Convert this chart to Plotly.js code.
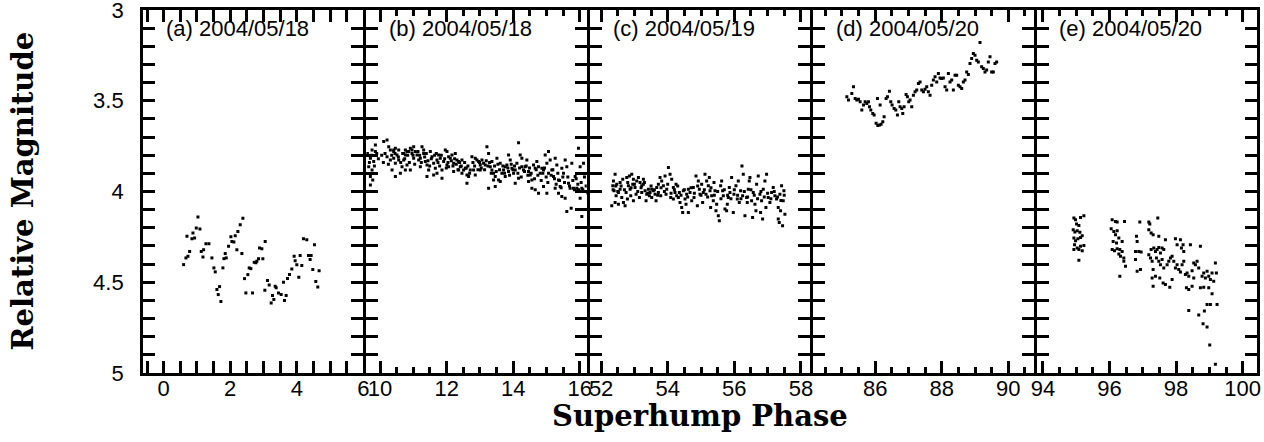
<!DOCTYPE html>
<html>
<head>
<meta charset="utf-8">
<script src="https://cdn.plot.ly/plotly-3.0.1.min.js"></script>
<style>html,body{margin:0;padding:0;background:#fff;}#plot{width:1264px;height:442px;}</style>
</head>
<body>
<div id="plot"></div>
<script>
// ---- Panel (a) 2004/05/18 ----
const aPhase = [0.60,0.67,0.73,0.78,0.70,0.88,0.85,0.93,0.98,1.03,1.09,1.13,1.20,1.18,1.27,1.36,1.45,1.51,1.55,1.60,1.64,1.68,1.72,1.78,1.81,1.88,1.85,1.95,2.02,2.05,2.11,2.15,2.20,2.23,2.30,2.38,2.35,2.43,2.47,2.53,2.57,2.62,2.67,2.72,2.77,2.80,2.85,2.88,2.95,2.98,3.05,3.04,3.12,3.17,3.23,3.27,3.31,3.35,3.38,3.45,3.53,3.60,3.63,3.68,3.72,3.78,3.85,3.92,3.95,4.00,4.06,4.10,4.15,4.20,4.30,4.35,4.40,4.43,4.48,4.53,4.57,4.63,4.67];
const aMag = [4.403,4.366,4.357,4.330,4.247,4.229,4.260,4.256,4.201,4.141,4.207,4.330,4.321,4.361,4.288,4.288,4.366,4.421,4.443,4.540,4.568,4.524,4.606,4.421,4.370,4.366,4.342,4.302,4.249,4.275,4.278,4.244,4.321,4.220,4.183,4.147,4.342,4.480,4.559,4.458,4.421,4.425,4.559,4.390,4.392,4.385,4.370,4.311,4.315,4.370,4.275,4.544,4.491,4.515,4.614,4.573,4.595,4.522,4.531,4.559,4.568,4.500,4.601,4.573,4.480,4.458,4.427,4.357,4.381,4.403,4.473,4.352,4.408,4.260,4.266,4.352,4.375,4.352,4.430,4.293,4.496,4.526,4.436];

// ---- Panel (b) 2004/05/18 ----
const bPhase = [9.61,9.76,9.86,9.71,9.81,9.66,9.76,9.71,9.78,9.71,9.86,10.11,10.21,10.26,10.31,10.46,10.41,10.56,10.76,10.71,10.81,10.21,10.31,10.41,10.46,10.56,10.36,10.46,10.61,10.66,10.51,10.41,10.71,10.76,10.86,10.91,10.96,11.01,10.81,10.76,10.91,10.96,11.06,11.01,11.11,11.16,11.21,11.26,11.31,11.36,11.41,11.46,11.41,11.31,11.21,11.51,11.56,11.61,11.66,11.71,11.76,11.81,11.86,11.71,11.61,11.86,11.91,11.96,12.01,12.06,12.11,12.16,12.21,12.26,12.06,12.01,12.21,12.31,12.36,12.41,12.46,12.51,12.56,12.61,12.66,12.46,12.61,12.36,12.71,12.76,12.86,12.91,12.96,13.01,12.81,12.86,13.06,13.01,13.11,13.16,13.21,13.26,13.31,13.36,13.41,13.46,13.26,13.41,13.46,13.36,13.51,13.56,13.61,13.66,13.71,13.76,13.81,13.86,13.76,13.61,13.86,13.91,13.96,14.01,14.06,14.11,14.16,14.21,14.26,14.06,14.16,14.26,14.31,14.36,14.41,14.46,14.51,14.56,14.61,14.66,14.46,14.56,14.66,14.71,14.76,14.81,14.86,14.91,14.96,15.01,15.06,14.91,14.76,15.01,15.06,15.11,15.16,15.21,15.26,15.31,15.36,15.41,15.46,15.26,15.36,15.46,15.51,15.56,15.61,15.66,15.71,15.76,15.81,15.61,15.74,15.86,15.56,15.91,15.96,16.01,16.06,16.11,16.01,16.06,15.96,
  9.62,9.68,9.74,9.83,9.90,9.95,10.05,10.10,10.15,10.25,10.35,10.45,10.55,10.62,10.68,10.74,10.83,10.88,10.99,11.04,11.14,11.19,11.24,11.34,11.39,11.44,11.49,11.54,11.64,11.69,11.74,11.79,11.84,11.94,11.99,12.04,12.14,12.19,12.24,12.29,12.34,12.39,12.44,12.54,12.59,12.64,12.69,12.79,12.84,12.94,12.99,13.04,13.14,13.19,13.24,13.29,13.34,13.44,13.49,13.54,13.59,13.69,13.74,13.84,13.89,13.94,13.99,14.04,14.14,14.19,14.24,14.34,14.39,14.44,14.49,14.54,14.64,14.69,14.74,14.84,14.89,14.94,14.99,15.04,15.14,15.19,15.24,15.29,15.34,15.39,15.44,15.49,15.54,15.64,15.69,15.79,15.84,15.89,15.94,16.04,16.09,16.14,16.19,16.24];
const bMag = [3.707,3.771,3.780,3.817,3.835,3.863,3.881,3.918,3.936,3.964,3.744,3.725,3.716,3.753,3.771,3.762,3.780,3.771,3.771,3.790,3.780,3.808,3.826,3.817,3.844,3.826,3.881,3.918,3.899,3.863,3.799,3.771,3.826,3.799,3.780,3.762,3.790,3.817,3.854,3.881,3.881,3.771,3.780,3.753,3.799,3.826,3.817,3.753,3.790,3.835,3.854,3.881,3.918,3.771,3.863,3.780,3.808,3.844,3.872,3.826,3.799,3.817,3.881,3.899,3.909,3.927,3.835,3.771,3.780,3.808,3.817,3.799,3.844,3.790,3.863,3.854,3.890,3.826,3.835,3.863,3.899,3.881,3.872,3.909,3.918,3.826,3.954,3.881,3.881,3.808,3.817,3.826,3.835,3.854,3.881,3.909,3.826,3.881,3.844,3.854,3.753,3.790,3.863,3.881,3.899,3.918,3.982,3.936,3.973,3.835,3.817,3.936,3.945,3.899,3.881,3.863,3.854,3.799,3.918,3.844,3.890,3.826,3.872,3.899,3.881,3.844,3.731,3.799,3.817,3.954,3.927,3.863,3.881,3.863,3.826,3.890,3.909,3.936,3.854,3.872,3.945,3.982,3.991,3.835,3.863,3.899,3.872,3.881,3.799,3.844,3.780,3.973,4.009,4.009,3.899,3.826,3.881,3.918,3.817,3.854,3.936,3.973,3.872,3.982,4.009,4.028,3.899,3.826,3.863,3.954,3.982,3.844,3.982,4.110,4.092,3.918,4.037,3.982,3.762,3.863,3.982,3.844,4.037,4.138,3.991,
  3.79,3.84,3.80,3.86,3.79,3.82,3.80,3.84,3.79,3.85,3.80,3.79,3.81,3.84,3.79,3.82,3.80,3.84,3.80,3.85,3.78,3.80,3.84,3.81,3.79,3.83,3.86,3.82,3.80,3.79,3.84,3.86,3.80,3.82,3.87,3.84,3.83,3.86,3.82,3.85,3.88,3.84,3.86,3.84,3.87,3.86,3.90,3.84,3.86,3.88,3.84,3.87,3.88,3.83,3.86,3.84,3.90,3.86,3.89,3.85,3.88,3.86,3.90,3.87,3.91,3.85,3.88,3.86,3.90,3.87,3.92,3.89,3.86,3.91,3.87,3.90,3.93,3.88,3.91,3.94,3.90,3.87,3.92,3.95,3.91,3.88,3.93,3.96,3.90,3.94,3.98,3.92,3.95,3.92,3.97,3.94,3.99,3.93,3.96,3.95,3.99,3.92,3.97,4.01];

// ---- Panel (c) 2004/05/19 ----
const cPhase = [52.42,52.37,52.35,52.47,52.39,52.52,52.45,52.57,52.62,52.32,52.42,52.52,52.67,52.72,52.57,52.65,52.77,52.85,52.92,52.97,52.82,52.87,52.95,53.02,53.07,52.75,52.89,53.05,52.79,52.97,53.12,53.17,53.22,53.27,53.32,53.37,53.42,53.47,53.15,53.35,53.45,53.27,53.22,53.52,53.57,53.62,53.67,53.72,53.77,53.82,53.87,53.65,53.52,53.72,53.79,53.92,53.97,54.02,54.07,54.12,54.17,54.22,54.27,53.95,54.09,54.25,54.17,54.32,54.37,54.42,54.47,54.52,54.57,54.62,54.67,54.45,54.62,54.35,54.55,54.72,54.77,54.85,54.92,54.97,55.02,55.07,54.79,54.89,55.05,54.95,55.12,55.17,55.22,55.27,55.32,55.37,55.42,55.47,55.15,55.29,55.45,55.25,55.39,55.52,55.55,55.59,55.65,55.67,55.72,55.77,55.82,55.87,55.62,55.79,55.85,55.92,55.99,56.05,56.09,56.15,56.19,56.23,56.27,55.97,56.12,56.25,56.32,56.37,56.42,56.47,56.52,56.57,56.62,56.67,56.45,56.55,56.65,56.39,56.72,56.77,56.82,56.87,56.92,56.97,57.02,57.07,56.79,56.95,56.85,57.12,57.17,57.22,57.27,57.32,57.37,57.42,57.47,57.52,57.39,57.32,57.45,57.35,57.49,
  52.36,52.44,52.50,52.60,52.70,52.80,52.90,53.00,53.10,53.20,53.30,53.40,53.50,53.60,53.70,53.80,53.90,54.00,54.10,54.20,54.30,54.40,54.50,54.60,54.70,54.80,54.90,55.00,55.10,55.20,55.30,55.40,55.50,55.60,55.70,55.80,55.90,56.00,56.10,56.20,56.30,56.40,56.50,56.60,56.70,56.80,56.90,57.00,57.10,57.20,57.30,57.40,57.50];
const cMag = [3.905,3.942,3.969,3.960,3.996,4.006,4.024,3.987,4.033,4.079,4.060,4.070,4.060,4.079,3.951,3.932,3.923,3.914,3.905,3.932,3.969,3.987,3.960,3.978,3.942,4.006,4.024,4.015,4.042,4.051,3.923,3.951,3.969,3.932,3.996,4.015,3.987,4.006,4.033,4.051,4.024,3.960,4.006,4.033,3.996,4.015,3.978,3.960,3.923,3.942,3.969,4.051,3.987,4.006,4.024,3.914,3.987,3.868,3.905,3.932,3.978,4.006,4.024,4.015,4.033,3.960,4.042,4.033,4.060,4.088,3.996,4.042,4.015,3.987,4.006,4.116,4.116,4.006,4.070,4.051,3.978,3.914,3.942,4.015,3.960,4.006,4.033,4.079,4.060,3.987,3.905,3.942,3.969,3.996,4.024,4.051,3.996,4.070,4.015,4.088,4.106,3.923,3.951,4.134,4.161,3.969,3.996,4.024,4.097,4.106,4.033,4.006,3.942,4.070,3.978,3.923,4.015,3.969,4.042,4.060,3.996,3.859,3.905,4.116,3.942,4.024,4.134,4.033,3.987,3.923,4.051,4.006,4.070,3.960,3.942,4.143,4.106,4.060,3.914,4.015,4.051,3.987,3.942,3.905,4.033,4.060,4.116,4.088,4.152,4.006,3.978,4.024,4.042,4.088,4.015,3.969,4.051,4.125,4.106,4.152,4.189,4.171,3.996,
  3.99,3.97,4.00,3.97,3.99,3.95,3.98,3.96,4.00,3.98,3.95,4.01,3.97,3.99,4.02,3.98,4.00,3.96,4.01,3.99,3.97,4.02,3.99,4.03,3.98,4.01,3.97,4.02,3.99,4.03,3.98,4.02,4.00,4.04,3.99,4.02,4.04,3.99,4.02,4.04,4.00,4.03,3.99,4.02,4.04,4.00,4.03,4.01,4.04,4.00,4.03,4.05,4.02];

// ---- Panel (d) 2004/05/20 ----
const dPhase = [85.15,85.20,85.30,85.35,85.40,85.45,85.50,85.55,85.60,85.65,85.70,85.75,85.80,85.83,85.87,85.93,85.97,86.03,86.08,86.13,86.18,86.23,86.27,86.15,86.07,86.33,86.37,86.43,86.47,86.51,86.57,86.62,86.67,86.71,86.75,86.80,86.83,86.87,86.93,86.97,87.01,87.05,87.10,87.15,87.20,87.25,87.30,87.35,87.40,87.45,87.50,87.55,87.60,87.65,87.70,87.75,87.80,87.85,87.90,87.95,88.00,88.05,88.10,88.15,88.20,88.25,88.30,88.35,88.40,88.45,88.50,88.55,88.60,88.65,88.70,88.75,88.80,88.85,88.90,88.95,89.00,89.05,89.10,89.15,89.20,89.25,89.30,89.35,89.40,89.45,89.50,89.55,89.60,89.65];
const dMag = [3.478,3.496,3.460,3.423,3.487,3.496,3.491,3.505,3.551,3.524,3.505,3.515,3.505,3.533,3.551,3.570,3.579,3.624,3.637,3.634,3.630,3.615,3.588,3.524,3.487,3.487,3.478,3.447,3.505,3.524,3.542,3.551,3.579,3.505,3.533,3.542,3.570,3.533,3.465,3.478,3.505,3.496,3.533,3.469,3.451,3.441,3.405,3.396,3.441,3.451,3.436,3.423,3.451,3.469,3.414,3.386,3.368,3.396,3.350,3.374,3.377,3.374,3.423,3.441,3.350,3.396,3.386,3.441,3.359,3.359,3.414,3.423,3.432,3.396,3.386,3.341,3.355,3.295,3.267,3.240,3.249,3.277,3.286,3.179,3.313,3.322,3.341,3.331,3.286,3.258,3.341,3.341,3.295,3.286];

// ---- Panel (e) 2004/05/20 ----
const ePhase = [94.93,94.98,95.01,95.08,95.13,95.23,94.91,94.96,95.03,95.11,94.93,94.98,95.05,95.13,95.18,94.95,95.03,95.13,95.23,94.93,95.08,95.18,95.08,96.08,96.18,96.23,96.45,96.05,96.13,96.23,96.18,96.28,96.38,96.11,96.21,96.08,96.15,96.23,96.31,96.38,96.28,96.33,96.43,96.48,96.31,96.43,96.81,96.83,96.78,96.88,96.95,96.91,96.78,96.83,96.93,97.18,97.21,97.18,97.25,97.31,97.25,97.18,97.23,97.28,97.33,97.31,97.28,97.31,97.45,97.38,97.43,97.48,97.53,97.58,97.63,97.68,97.48,97.41,97.48,97.53,97.58,97.63,97.73,97.78,97.83,97.88,97.93,97.38,97.51,97.61,97.68,97.81,97.88,97.98,98.03,98.13,98.16,98.21,98.23,97.98,98.03,98.08,98.13,98.18,98.23,98.28,98.33,98.38,98.43,98.48,98.53,98.31,98.38,98.48,98.38,98.53,98.58,98.63,98.68,98.73,98.78,98.83,98.88,98.93,98.98,99.03,99.08,99.13,99.18,99.21,98.73,98.83,98.98,99.08,98.93,99.03,99.23,98.85,98.68,98.81,98.93,99.01,99.18];
const eMag = [4.146,4.156,4.179,4.187,4.143,4.134,4.211,4.223,4.216,4.225,4.256,4.271,4.260,4.253,4.244,4.293,4.311,4.302,4.297,4.320,4.320,4.326,4.379,4.156,4.165,4.168,4.165,4.205,4.220,4.216,4.238,4.256,4.275,4.275,4.284,4.320,4.326,4.315,4.320,4.330,4.344,4.357,4.366,4.412,4.467,4.385,4.247,4.275,4.330,4.330,4.333,4.168,4.375,4.440,4.430,4.168,4.179,4.211,4.229,4.238,4.320,4.348,4.366,4.385,4.311,4.430,4.476,4.522,4.146,4.330,4.320,4.308,4.339,4.311,4.320,4.266,4.247,4.366,4.385,4.403,4.375,4.421,4.403,4.385,4.366,4.357,4.385,4.467,4.476,4.504,4.513,4.527,4.485,4.260,4.293,4.266,4.311,4.293,4.330,4.421,4.403,4.430,4.443,4.403,4.385,4.458,4.449,4.467,4.293,4.436,4.476,4.531,4.540,4.522,4.656,4.394,4.403,4.385,4.421,4.302,4.467,4.449,4.476,4.440,4.467,4.485,4.449,4.494,4.394,4.449,4.531,4.527,4.531,4.564,4.623,4.623,4.623,4.659,4.681,4.729,4.747,4.846,4.952];

const panelLabels = ['(a) 2004/05/18','(b) 2004/05/18','(c) 2004/05/19','(d) 2004/05/20','(e) 2004/05/20'];
const xRanges = [[-0.62,6.0001],[9.59,16.21],[51.66,58.28],[84.14,90.76],[93.81,100.43]];
const yRange = [5.0001,2.9999];
const yTickVals = [3,3.5,4,4.5,5];
const yTickText = ['3\u00a0\u00a0\u00a0','3.5\u00a0\u00a0\u00a0','4\u00a0\u00a0\u00a0','4.5\u00a0\u00a0\u00a0','5\u00a0\u00a0\u00a0'];
const xTitle = 'Superhump Phase';
const yTitle = 'Relative Magnitude';

const series = [[aPhase,aMag],[bPhase,bMag],[cPhase,cMag],[dPhase,dMag],[ePhase,eMag]];

const labelFamily = 'Liberation Sans, Arial, sans-serif';
const titleFont = {family:'DejaVu Serif, serif', size:29, color:'black', weight:'bold'};

const plotW = 1264 - 143 - 7;
const lineW = 3;
const gapFrac = lineW / plotW;
const panelFrac = (1 - 4*gapFrac) / 5;

const data = [];
const layout = {
  width:1264, height:442,
  margin:{l:143, r:7, t:10, b:69},
  showlegend:false,
  annotations:[]
};
for (let i=0;i<5;i++){
  const sfx = i===0 ? '' : String(i+1);
  data.push({
    type:'scatter', mode:'markers',
    x: series[i][0], y: series[i][1],
    xaxis:'x'+sfx, yaxis:'y'+sfx,
    marker:{symbol:'square', size:3, color:'black'}
  });
  // frame + tick axes (no labels)
  const common = {
    showgrid:false, zeroline:false, showline:true, linecolor:'black', linewidth:lineW,
    mirror:'allticks', ticks:'inside', tickcolor:'black', tickwidth:3, ticklen:12,
    showticklabels:false
  };
  const d0 = i*(panelFrac+gapFrac);
  layout['xaxis'+sfx] = Object.assign({}, common, {
    domain:[d0, Math.min(1, d0+panelFrac)], range:xRanges[i], anchor:'y'+sfx,
    tick0:0, dtick:2,
    minor:{dtick:0.5, ticklen:6, tickwidth:3, tickcolor:'black', ticks:'inside'}
  });
  layout['yaxis'+sfx] = Object.assign({}, common, {
    domain:[0,1], range:yRange, anchor:'x'+sfx,
    tick0:3, dtick:0.5,
    minor:{tick0:3, dtick:0.1, ticklen:6, tickwidth:3, tickcolor:'black', ticks:'inside'}
  });
  // label-only x axis overlaying the tick axis
  layout['xaxis'+(i+6)] = {
    overlaying:'x'+sfx, anchor:'y'+sfx, side:'bottom', range:xRanges[i],
    tick0:0, dtick:2, ticks:'', showline:false, showgrid:false, zeroline:false,
    tickfont:{family:labelFamily, size:22, color:'black'}, ticklabeloverflow:'allow'
  };
  layout.annotations.push({
    text: panelLabels[i], showarrow:false,
    xref:'x'+sfx+' domain', yref:'y'+sfx+' domain',
    x:0.094, y:0.95, xanchor:'left', yanchor:'middle',
    font:{family:labelFamily, size:22, color:'black'}
  });
}
// label-only y axis
layout.yaxis6 = {
  overlaying:'y', anchor:'x', side:'left', range:yRange,
  tickmode:'array', tickvals:yTickVals, ticktext:yTickText,
  ticks:'', showline:false, showgrid:false, zeroline:false,
  tickfont:{family:labelFamily, size:22, color:'black'}, ticklabeloverflow:'allow'
};
// empty traces so the label axes belong to subplots
for (let i=0;i<5;i++){
  const sfx = i===0 ? '' : String(i+1);
  data.push({type:'scatter', mode:'markers', x:[], y:[], xaxis:'x'+(i+6), yaxis:'y'+sfx, hoverinfo:'skip', showlegend:false});
}
data.push({type:'scatter', mode:'markers', x:[], y:[], xaxis:'x', yaxis:'y6', hoverinfo:'skip', showlegend:false});

layout.annotations.push({
  text:xTitle, showarrow:false, xref:'paper', yref:'paper', x:0.5, y:0,
  xanchor:'center', yanchor:'middle', yshift:-43, font:titleFont
});
layout.annotations.push({
  text:yTitle, showarrow:false, xref:'paper', yref:'paper', x:0, y:0.5,
  xanchor:'center', yanchor:'middle', xshift:-121, textangle:-90, font:titleFont
});

Plotly.newPlot('plot', data, layout, {staticPlot:true});
</script>
</body>
</html>
